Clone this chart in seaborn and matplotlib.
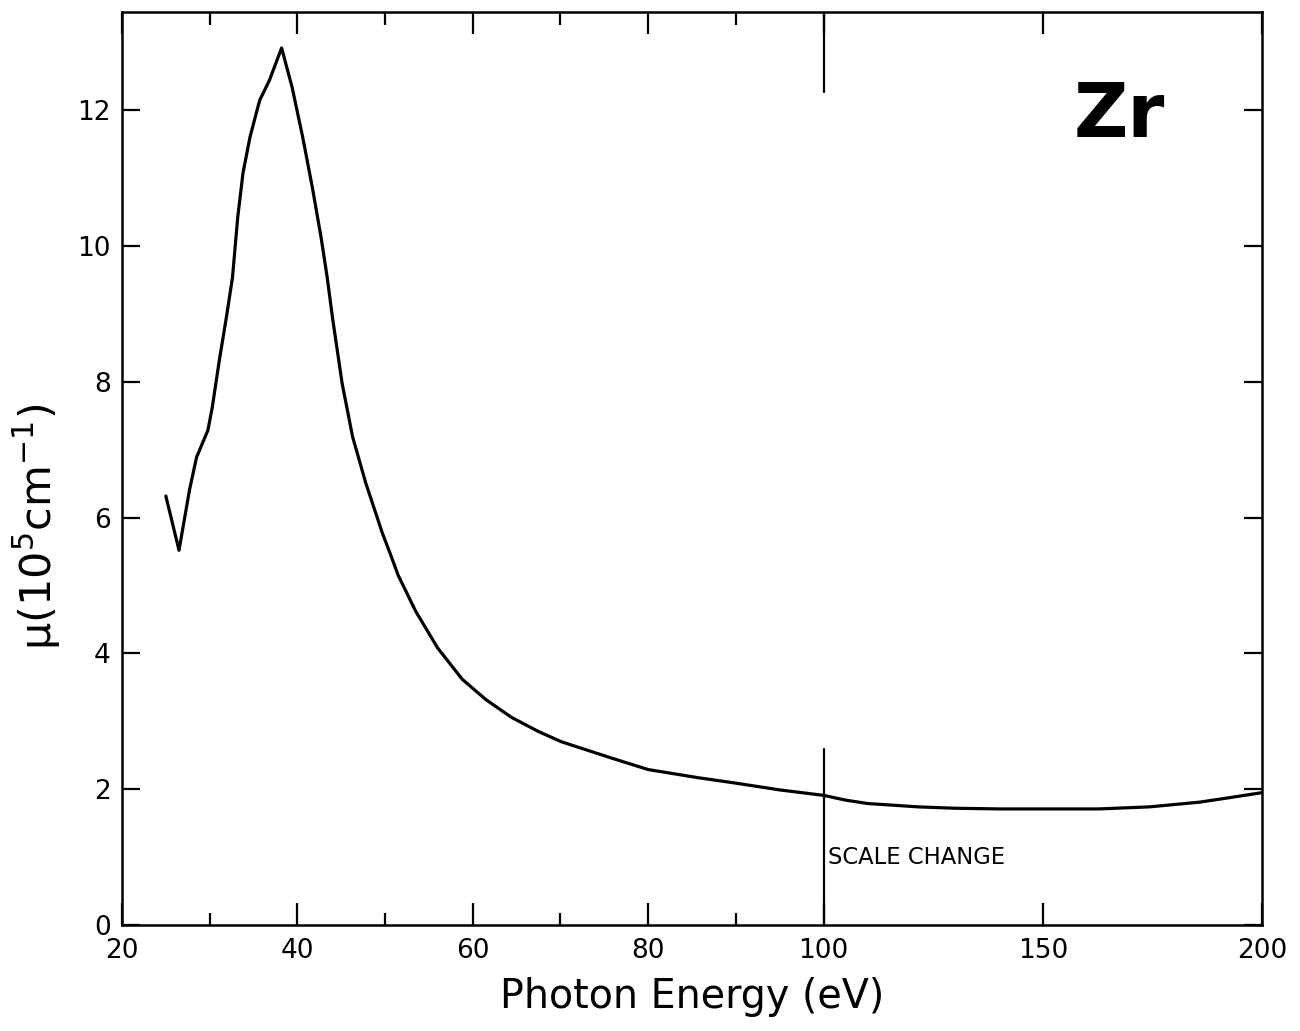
import numpy as np
import matplotlib
matplotlib.use("Agg")
import matplotlib.pyplot as plt
import seaborn as sns

# Photon energy (eV) and absorption coefficient mu (1e5 cm^-1)
energy = [25.0, 26.5, 27.7, 28.5, 29.8, 30.3, 31.1, 31.9, 32.6, 33.2, 33.8, 34.6,
          35.7, 36.8, 38.2, 39.4, 40.6, 41.7, 42.7, 43.4, 44.0, 45.1, 46.3, 47.8,
          49.7, 50.5, 51.5, 53.5, 56.0, 58.8, 61.5, 64.4, 67.5, 70.1, 75.8, 80.0,
          85.7, 90.0, 95.0, 100.0, 105.0, 110.0, 121.6, 130.0, 140.0, 150.0, 162.8,
          174.3, 185.8, 192.0, 200.0]
mu = [6.32, 5.52, 6.41, 6.89, 7.29, 7.63, 8.32, 8.95, 9.54, 10.43, 11.08, 11.61,
      12.15, 12.44, 12.92, 12.34, 11.61, 10.87, 10.13, 9.54, 8.95, 7.98, 7.19, 6.51,
      5.77, 5.50, 5.15, 4.62, 4.08, 3.62, 3.32, 3.06, 2.85, 2.70, 2.46, 2.29,
      2.17, 2.09, 1.99, 1.91, 1.84, 1.79, 1.74, 1.72, 1.71, 1.71, 1.71,
      1.74, 1.81, 1.87, 1.95]

x_major = [20, 40, 60, 80, 100, 150, 200]
x_major_labels = ["20", "40", "60", "80", "100", "150", "200"]
x_minor = [30, 50, 70, 90]
y_major = [0, 2, 4, 6, 8, 10, 12]

sns.set_style("ticks")
plt.rcParams["font.family"] = ["DejaVu Sans"]
plt.rcParams["text.color"] = "black"
plt.rcParams["axes.labelcolor"] = "black"
plt.rcParams["xtick.color"] = "black"
plt.rcParams["ytick.color"] = "black"

fig = plt.figure(figsize=(13, 10.31), dpi=100)
ax = fig.add_axes([122 / 1300, 1 - 925 / 1031, (1262 - 122) / 1300, (925 - 12) / 1031])

BREAK = 100.0
RATIO = 0.5


def fwd(x):
    x = np.asarray(x, dtype=float)
    return np.where(x <= BREAK, x, BREAK + (x - BREAK) * RATIO)


def inv(u):
    u = np.asarray(u, dtype=float)
    return np.where(u <= BREAK, u, BREAK + (u - BREAK) / RATIO)


ax.set_xscale("function", functions=(fwd, inv))

sns.lineplot(x=energy, y=mu, ax=ax, color="black", linewidth=2.3, sort=False,
             estimator=None)

ax.set_xlim(20, 200)
ax.set_ylim(0, 13.45)

ax.set_xticks(x_major)
ax.set_xticklabels(x_major_labels)
ax.set_xticks(x_minor, minor=True)
ax.set_yticks(y_major)
ax.set_yticklabels([str(v) for v in y_major])

ax.tick_params(axis="both", which="both", direction="in", top=True, right=True,
               width=1.6, colors="black")
ax.tick_params(axis="x", which="major", length=16, labelsize=19, pad=9)
ax.tick_params(axis="x", which="minor", length=9)
ax.tick_params(axis="y", which="major", length=13, labelsize=19, pad=8)

for s in ax.spines.values():
    s.set_linewidth(1.8)
    s.set_color("black")

# scale-change markers
ax.plot([100, 100], [0, 2.6], color="black", lw=1.6)
ax.plot([100, 100], [12.27, 13.45], color="black", lw=1.6)
ax.text(101.0, 1.0, "SCALE CHANGE", fontsize=16.3, va="center", ha="left",
        color="black")

ax.text(0.8746, 0.885, "Zr", transform=ax.transAxes, fontsize=54,
        fontweight="bold", ha="center", va="center", color="black")

ax.set_xlabel("Photon Energy (eV)", fontsize=28.5, labelpad=10)
ax.set_ylabel("μ(10$^5$cm$^{-1}$)", fontsize=31)
ax.yaxis.set_label_coords(-0.052, 0.436)

ax.grid(False)
fig.savefig("out.png", dpi=100, facecolor="white")
